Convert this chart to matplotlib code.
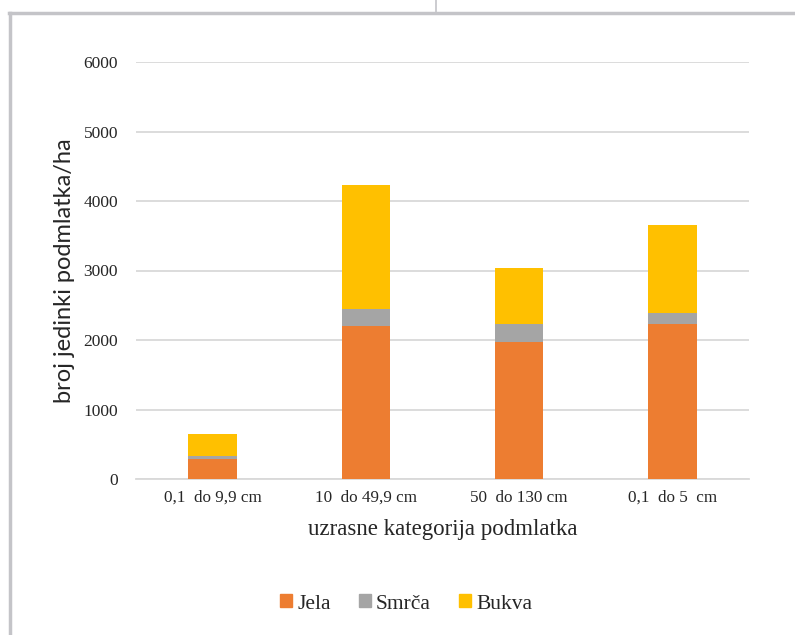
import matplotlib
matplotlib.use("Agg")
import matplotlib.pyplot as plt
from matplotlib.lines import Line2D
from matplotlib.patches import Patch
import numpy as np

categories = ["0,1  do 9,9 cm", "10  do 49,9 cm", "50  do 130 cm", "0,1  do 5  cm"]
jela = [290, 2200, 1970, 2230]
smrca = [40, 250, 260, 160]
bukva = [320, 1780, 800, 1260]
yticks = [0, 1000, 2000, 3000, 4000, 5000, 6000]

c_jela = "#ED7D31"
c_smrca = "#A5A5A5"
c_bukva = "#FFC000"
serif = "Liberation Serif"

fig = plt.figure(figsize=(7.95, 6.35), dpi=100)
ax = fig.add_axes([136 / 795, 1 - 479 / 635, (749 - 136) / 795, (479 - 62) / 635])

x = np.arange(len(categories))
w = 0.315
b1 = np.array(jela)
b2 = b1 + np.array(smrca)
ax.bar(x, jela, w, color=c_jela, zorder=3)
ax.bar(x, smrca, w, bottom=b1, color=c_smrca, zorder=3)
ax.bar(x, bukva, w, bottom=b2, color=c_bukva, zorder=3)

ax.set_xlim(-0.5, len(categories) - 0.5)
ax.set_ylim(0, 6000)
ax.set_yticks(yticks)
ax.set_yticklabels([str(v) for v in yticks], fontfamily=serif, fontsize=12.5)
ax.set_xticks(x)
ax.set_xticklabels(categories, fontfamily=serif, fontsize=12.3)
ax.tick_params(axis="both", length=0, labelcolor="#262626")
ax.tick_params(axis="y", pad=13)
ax.tick_params(axis="x", pad=8)
ax.grid(axis="y", color="#D9D9D9", linewidth=1.3, zorder=0)
for s in ["top", "right", "left"]:
    ax.spines[s].set_visible(False)
ax.spines["bottom"].set_color("#D9D9D9")
ax.spines["bottom"].set_linewidth(1.3)

ax.set_xlabel("uzrasne kategorija podmlatka", fontfamily=serif, fontsize=16.5,
              labelpad=9, color="#262626")
ax.set_ylabel("broj jedinki podmlatka/ha", fontfamily="Lato", fontsize=17,
              labelpad=6, color="#262626")

handles = [Patch(color=c_jela, label="Jela"),
           Patch(color=c_smrca, label="Smrča"),
           Patch(color=c_bukva, label="Bukva")]
fig.legend(handles=handles, loc="center", bbox_to_anchor=(406 / 795, 1 - 604 / 635),
           ncol=3, frameon=False, prop={"family": serif, "size": 15.5},
           handlelength=0.55, handleheight=0.55, handletextpad=0.25, columnspacing=1.3,
           labelcolor="#262626")

# outer frame lines
frame = "#C4C4C8"
fig.add_artist(Line2D([10 / 795, 10 / 795], [0, 1 - 13 / 635], transform=fig.transFigure,
                      color=frame, linewidth=2.5))
fig.add_artist(Line2D([9 / 795, 1], [1 - 13 / 635, 1 - 13 / 635], transform=fig.transFigure,
                      color=frame, linewidth=2.5))
fig.add_artist(Line2D([436 / 795, 436 / 795], [1 - 13 / 635, 1], transform=fig.transFigure,
                      color=frame, linewidth=1.2))

fig.savefig("out.png", dpi=100)
